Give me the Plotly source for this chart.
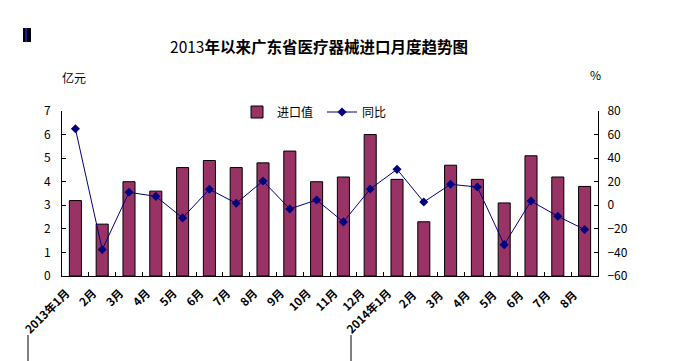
import plotly.graph_objects as go

categories = ["2013年1月", "2月", "3月", "4月", "5月", "6月", "7月", "8月", "9月", "10月",
              "11月", "12月", "2014年1月", "2月 ", "3月 ", "4月 ", "5月 ", "6月 ", "7月 ", "8月 "]
import_value = [3.2, 2.2, 4.0, 3.6, 4.6, 4.9, 4.6, 4.8, 5.3, 4.0,
                4.2, 6.0, 4.1, 2.3, 4.7, 4.1, 3.1, 5.1, 4.2, 3.8]
yoy = [65.0, -37.6, 11.0, 7.6, -10.7, 13.6, 1.7, 20.6, -3.1, 4.5,
       -14.1, 13.8, 30.5, 2.8, 17.8, 15.5, -33.4, 3.6, -9.3, -20.6]
left_ticks = [0, 1, 2, 3, 4, 5, 6, 7]
right_ticks = [-60, -40, -20, 0, 20, 40, 60, 80]

W, H = 695, 361
FONT = "Noto Sans CJK SC"

# plot-area pixel bounds
pl, pr, pt, pb = 62, 598, 111, 276
def px(x):
    return (x - pl) / (pr - pl)
def py(y):
    return (pb - y) / (pb - pt)

fig = go.Figure()
fig.add_trace(go.Bar(
    x=categories, y=import_value, name="进口值",
    marker=dict(color="#993366", line=dict(color="#000000", width=1)),
    width=0.45,
))
fig.add_trace(go.Scatter(
    x=categories, y=yoy, name="同比", yaxis="y2", mode="lines+markers",
    line=dict(color="#000080", width=1),
    marker=dict(symbol="diamond", size=7, color="#000080"),
))

fig.update_layout(
    width=W, height=H, autosize=False,
    margin=dict(l=pl, r=W - pr, t=pt, b=H - pb, autoexpand=False),
    plot_bgcolor="white", paper_bgcolor="white",
    font=dict(family=FONT, size=12, color="#000000"),
    showlegend=True,
    legend=dict(orientation="h", x=px(237), y=py(112), xanchor="left", yanchor="middle",
                font=dict(size=12), bgcolor="rgba(0,0,0,0)", itemwidth=30,
                entrywidth=40, entrywidthmode="pixels"),
    xaxis=dict(
        type="category", range=[-0.5, len(categories) - 0.5],
        tickangle=-45, ticks="inside", tickson="boundaries",
        ticklen=4, tickcolor="#000", showline=True, linecolor="#000", linewidth=1,
        tickfont=dict(size=11.5, family=FONT, weight="bold"), showgrid=False,
        automargin=False, ticklabelshift=-9, ticklabelstandoff=5,
    ),
    yaxis=dict(
        range=[0, 7], tickvals=left_ticks, ticks="inside", ticklen=4, tickcolor="#000",
        showline=True, linecolor="#000", linewidth=1, showgrid=False, zeroline=False,
        tickfont=dict(size=12), automargin=False, ticklabelstandoff=8,
    ),
    yaxis2=dict(
        range=[-60, 80], tickvals=right_ticks, overlaying="y", side="right",
        ticks="inside", ticklen=4, tickcolor="#000", showline=True, linecolor="#000",
        linewidth=1, showgrid=False, zeroline=False, tickfont=dict(size=12),
        automargin=False, ticklabelstandoff=6,
    ),
    title=dict(text="2013<b>年以来广东省医疗器械进口月度趋势图</b>", x=319 / W, xanchor="center",
               y=1 - 48 / H, yanchor="middle",
               font=dict(size=15.5, family=FONT)),
    annotations=[
        dict(text="亿元", x=px(74), y=py(77), xref="paper", yref="paper",
             showarrow=False, font=dict(size=12), xanchor="center", yanchor="middle"),
        dict(text="%", x=px(595), y=py(75), xref="paper", yref="paper",
             showarrow=False, font=dict(size=12), xanchor="center", yanchor="middle"),
    ],
)

shapes = []
for xx in (28, 351):
    shapes.append(dict(type="line", xref="paper", yref="paper",
                       x0=px(xx), x1=px(xx), y0=py(335), y1=py(361),
                       line=dict(color="#000", width=1)))
for x0, x1, c in ((23, 25, "#000000"), (25, 27, "#1a1aa0"), (27, 31, "#000000")):
    shapes.append(dict(type="rect", xref="paper", yref="paper",
                       x0=px(x0), x1=px(x1), y0=py(42), y1=py(28),
                       line=dict(width=0), fillcolor=c))
fig.update_layout(shapes=shapes)

fig.write_html("out.html", config={"displayModeBar": False},
               post_script="document.body.style.margin='0';")
